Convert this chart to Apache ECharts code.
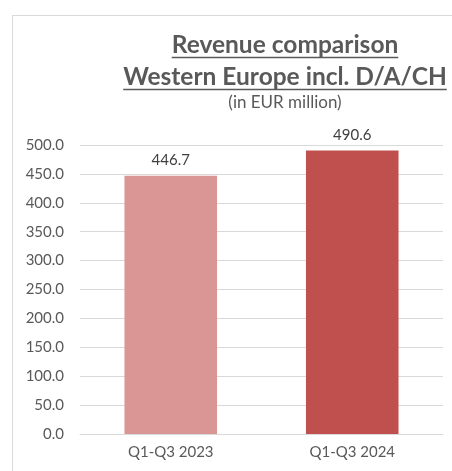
<!DOCTYPE html>
<html>
<head>
<meta charset="utf-8">
<script src="https://cdn.jsdelivr.net/npm/echarts@6/dist/echarts.min.js"></script>
<style>
  html, body { margin: 0; padding: 0; background: #fff; }
  #chart { width: 452px; height: 471px; }
</style>
</head>
<body>
<div id="chart"></div>
<script>
const categories = ['Q1-Q3 2023', 'Q1-Q3 2024'];
const revenue = [446.7, 490.6];
const barColors = ['#D99694', '#C0504D'];
const titleLines = ['Revenue comparison', 'Western Europe incl. D/A/CH'];
const subtitle = '(in EUR million)';

const FONT = 'Lato, "Liberation Sans", sans-serif';
const titleCx = 285;
const titleFont = 'bold 24.5px ' + FONT;

// title lines + underline, drawn as graphic text
const ctx = document.createElement('canvas').getContext('2d');
ctx.font = titleFont;
const titleGraphics = [];
titleLines.forEach((t, i) => {
  const w = ctx.measureText(t).width;
  const yMid = 45 + i * 32;
  titleGraphics.push({
    type: 'text',
    style: {
      text: t, x: titleCx, y: yMid, align: 'center', verticalAlign: 'middle',
      font: titleFont, fill: '#595959'
    }
  });
  titleGraphics.push({
    type: 'line',
    shape: { x1: titleCx - w / 2, y1: yMid + 12.5, x2: titleCx + w / 2, y2: yMid + 12.5 },
    style: { stroke: '#595959', lineWidth: 1.5 }
  });
});
titleGraphics.push({
  type: 'text',
  style: {
    text: subtitle, x: titleCx, y: 103, align: 'center', verticalAlign: 'middle',
    font: '17px ' + FONT, fill: '#595959'
  }
});

const chart = echarts.init(document.getElementById('chart'));
chart.setOption({
  animation: false,
  backgroundColor: '#fff',
  textStyle: { fontFamily: FONT },
  graphic: [
    {
      type: 'polyline',
      shape: { points: [[12.5, 471], [12.5, 15.5], [452, 15.5]] },
      style: { stroke: '#D9D9D9', lineWidth: 1, fill: null }
    }
  ].concat(titleGraphics),
  grid: { left: 80, right: 9, top: 145, bottom: 37 },
  xAxis: {
    type: 'category',
    data: categories,
    axisLine: { lineStyle: { color: '#D9D9D9' } },
    axisTick: { show: false },
    axisLabel: { color: '#595959', fontSize: 15, margin: 11 }
  },
  yAxis: {
    type: 'value',
    min: 0,
    max: 500,
    interval: 50,
    axisLine: { show: false },
    axisTick: { show: false },
    splitLine: { lineStyle: { color: '#D9D9D9' } },
    axisLabel: { color: '#595959', fontSize: 15, margin: 16, formatter: v => v.toFixed(1) }
  },
  series: [{
    type: 'bar',
    barWidth: '51%',
    data: revenue.map((v, i) => ({ value: v, itemStyle: { color: barColors[i] } })),
    label: {
      show: true,
      position: 'top',
      distance: 8,
      color: '#404040',
      fontSize: 15,
      formatter: p => p.value.toFixed(1)
    }
  }]
});
</script>
</body>
</html>
